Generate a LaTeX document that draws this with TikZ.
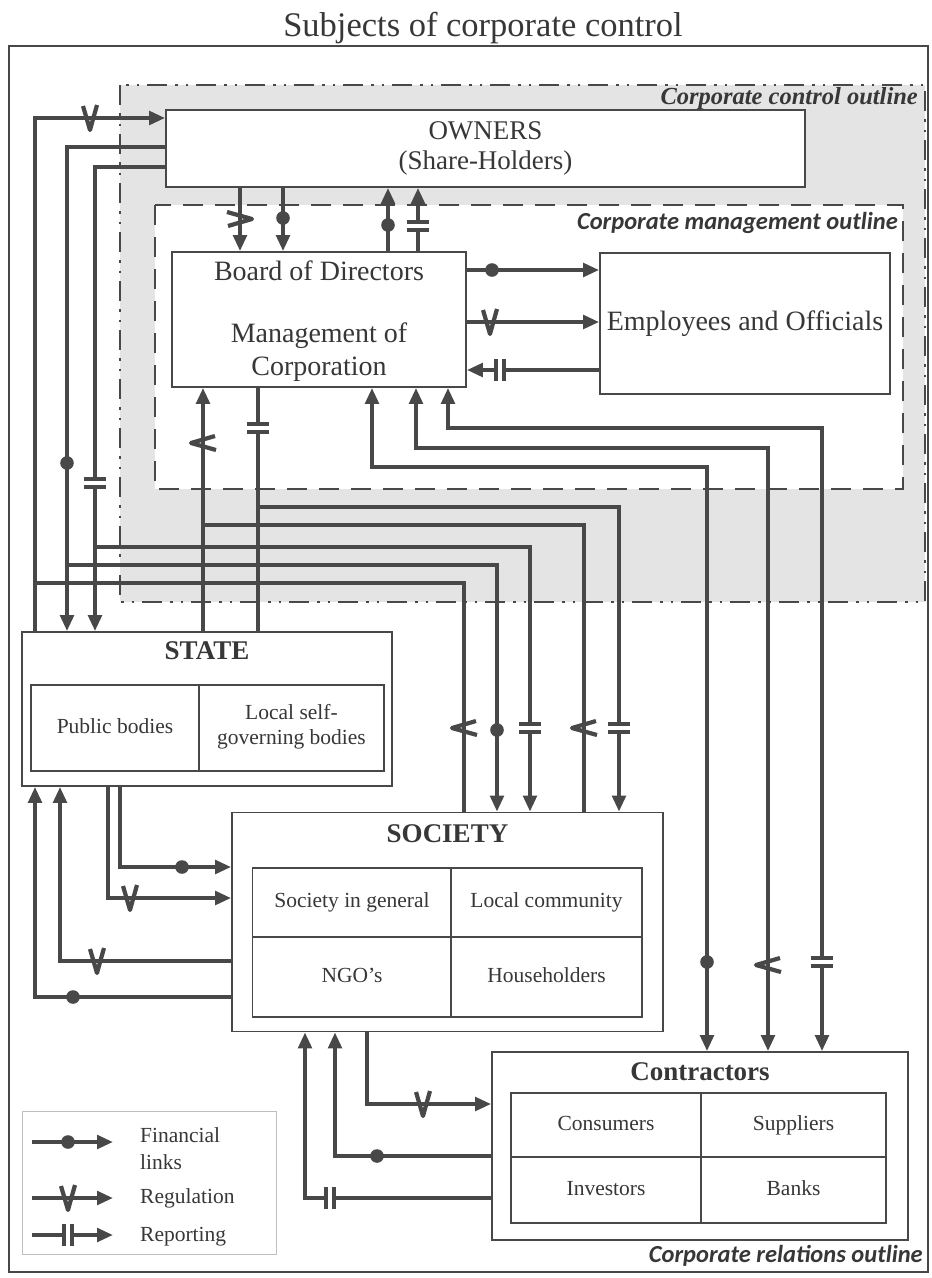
\documentclass[tikz,border=0pt]{standalone}
\usepackage{fontspec}
\setmainfont{Liberation Serif}
\newfontfamily\calibri{Carlito}
\usetikzlibrary{arrows.meta}

\definecolor{lineGray}{RGB}{72,72,72}
\definecolor{textGray}{RGB}{55,55,55}
\definecolor{zoneGray}{RGB}{228,228,228}

\begin{document}
\begin{tikzpicture}[x=1pt, y=-1pt, line join=miter]
	\tikzstyle{boxStyle}=[draw=lineGray, line width=1.8pt, fill=white, inner sep=0pt, text=textGray]
	\tikzstyle{cellStyle}=[draw=lineGray, line width=1.4pt, inner sep=0pt, text=textGray, align=center, font=\fontsize{21.5}{25}\selectfont, execute at begin node=\strut]
	\tikzstyle{textStyle}=[text=textGray, inner sep=0pt, align=center, font=\fontsize{28}{33}\selectfont]
	\tikzstyle{headStyle}=[text=textGray, inner sep=0pt, font=\fontsize{27}{30}\selectfont\bfseries]
	\tikzstyle{legendStyle}=[text=textGray, inner sep=0pt, anchor=west, align=left, font=\fontsize{21.5}{27}\selectfont]
	\tikzstyle{outlineStyle}=[text=textGray, inner sep=0pt, anchor=east]
	\tikzstyle{linkStyle}=[draw=lineGray, line width=3.8pt]
	\tikzstyle{toStyle}=[linkStyle, -{Triangle[length=16pt,width=13.5pt]}]
	\tikzstyle{bothStyle}=[linkStyle, {Triangle[length=16pt,width=13.5pt]}-{Triangle[length=16pt,width=13.5pt]}]
	\tikzset{
		finMark/.pic={\fill[lineGray] (0,0) circle (6.8);},
		regMark/.pic={\draw[lineGray, line width=4.2pt, line join=round] (-7,-12) -- (0,12) -- (7,-13);},
		repMark/.pic={\fill[white] (-3,-6) rectangle (3,6); \draw[lineGray, line width=3.6pt] (-4,-11) -- (-4,11) (4,-11) -- (4,11);}
	}
	\useasboundingbox (0,0) rectangle (932,1278);
	\node[text=textGray, inner sep=0pt, font=\fontsize{34.5}{40}\selectfont] (title) at (483,28) {Subjects of corporate control};
	\draw[lineGray, line width=2.5pt] (9,46) rectangle (928,1272);
	\draw[fill=zoneGray, draw=lineGray, line width=2.6pt, dash pattern=on 20pt off 8pt on 2.5pt off 8pt on 2.5pt off 8pt] (120,85) rectangle (925,602);
	\draw[fill=white, draw=lineGray, line width=2.6pt, dash pattern=on 20pt off 12pt] (155,205) rectangle (903,489);
	\node[outlineStyle, font=\fontsize{24.5}{28}\selectfont\bfseries\itshape] (ctrlLabel) at (918,99) {Corporate control outline};
	\node[outlineStyle, font=\calibri\fontsize{24.5}{28}\selectfont\bfseries\itshape] (mgmtLabel) at (898,223) {Corporate management outline};
	\node[outlineStyle, font=\calibri\fontsize{24.5}{28}\selectfont\bfseries\itshape] (relLabel) at (923,1256) {Corporate relations outline};

	\node[boxStyle, minimum width=639pt, minimum height=77pt, align=center, font=\fontsize{27}{30}\selectfont] (owners) at (485.5,148.5) {OWNERS\\(Share-Holders)};
	\node[boxStyle, minimum width=294pt, minimum height=135pt] (board) at (319,319.5) {};
	\node[textStyle] (boardText) at (319,271) {Board of Directors};
	\node[textStyle] (mgmtText) at (319,352) {Management of\\Corporation};
	\node[boxStyle, minimum width=290pt, minimum height=141pt, font=\fontsize{28}{33}\selectfont] (empl) at (745,323.5) {Employees and Officials};

	\node[boxStyle, minimum width=370pt, minimum height=154pt] (state) at (207,709) {};
	\node[headStyle] (stateHead) at (207,651) {STATE};
	\node[cellStyle, minimum width=168pt, minimum height=86pt] (publicCell) at (115,728) {Public bodies};
	\node[cellStyle, minimum width=185pt, minimum height=86pt] (localCell) at (291.5,728) {Local self-\\governing bodies};

	\node[boxStyle, minimum width=431pt, minimum height=219pt] (society) at (447.5,922) {};
	\node[headStyle] (societyHead) at (447.5,834) {SOCIETY};
	\node[cellStyle, minimum width=199pt, minimum height=69pt] (generalCell) at (352,902.5) {Society in general};
	\node[cellStyle, minimum width=191pt, minimum height=69pt] (communityCell) at (546.5,902.5) {Local community};
	\node[cellStyle, minimum width=199pt, minimum height=80pt] (ngoCell) at (352,977) {NGO’s};
	\node[cellStyle, minimum width=191pt, minimum height=80pt] (houseCell) at (546.5,977) {Householders};

	\node[boxStyle, minimum width=416pt, minimum height=188pt] (contr) at (700,1146) {};
	\node[headStyle] (contrHead) at (700,1072) {Contractors};
	\node[cellStyle, minimum width=190pt, minimum height=64pt] (consCell) at (606,1125) {Consumers};
	\node[cellStyle, minimum width=185pt, minimum height=64pt] (suppCell) at (793.5,1125) {Suppliers};
	\node[cellStyle, minimum width=190pt, minimum height=66pt] (invCell) at (606,1190) {Investors};
	\node[cellStyle, minimum width=185pt, minimum height=66pt] (bankCell) at (793.5,1190) {Banks};

	\coordinate (busOwnReg) at (35,583);
	\coordinate (busOwnFin) at (67,565);
	\coordinate (busOwnRep) at (95,547);
	\coordinate (busBrdReg) at (203,525);
	\coordinate (busBrdRep) at (258,507);

	\draw[toStyle] (owners.south -| 240,0) -- (board.north -| 240,0);
	\draw[toStyle] (owners.south -| 283,0) -- (board.north -| 283,0);
	\draw[toStyle] (board.north -| 388,0) -- (owners.south -| 388,0);
	\draw[toStyle] (board.north -| 418,0) -- (owners.south -| 418,0);
	\draw[toStyle] (board.east |- 0,270) -- (empl.west |- 0,270);
	\draw[toStyle] (board.east |- 0,322) -- (empl.west |- 0,322);
	\draw[toStyle] (empl.west |- 0,370) -- (board.east |- 0,370);

	\draw[toStyle] (state.north -| busOwnReg) -- (35,118) -- (owners.west |- 0,118);
	\draw[linkStyle] (society.north -| 464,0) -- (464,583) -- (busOwnReg);
	\draw[toStyle] (owners.west |- 0,147) -- (67,147) -- (state.north -| busOwnFin);
	\draw[toStyle] (busOwnFin) -- (497,565) -- (society.north -| 497,0);
	\draw[toStyle] (owners.west |- 0,167) -- (95,167) -- (state.north -| busOwnRep);
	\draw[toStyle] (busOwnRep) -- (530,547) -- (society.north -| 530,0);
	\draw[toStyle] (state.north -| busBrdReg) -- (board.south -| busBrdReg);
	\draw[linkStyle] (society.north -| 584,0) -- (584,525) -- (busBrdReg);
	\draw[linkStyle] (board.south -| busBrdRep) -- (state.north -| busBrdRep);
	\draw[toStyle] (busBrdRep) -- (619,507) -- (society.north -| 619,0);
	\draw[bothStyle] (board.south -| 372,0) -- (372,467) -- (707,467) -- (contr.north -| 707,0);
	\draw[bothStyle] (board.south -| 416,0) -- (416,448) -- (768,448) -- (contr.north -| 768,0);
	\draw[bothStyle] (board.south -| 448,0) -- (448,428) -- (822,428) -- (contr.north -| 822,0);

	\draw[toStyle] (state.south -| 120,0) -- (120,867) -- (society.west |- 0,867);
	\draw[toStyle] (state.south -| 108,0) -- (108,898) -- (society.west |- 0,898);
	\draw[toStyle] (society.west |- 0,961) -- (60,961) -- (state.south -| 60,0);
	\draw[toStyle] (society.west |- 0,997) -- (35,997) -- (state.south -| 35,0);

	\draw[toStyle] (society.south -| 367,0) -- (367,1104) -- (contr.west |- 0,1104);
	\draw[toStyle] (contr.west |- 0,1156) -- (335,1156) -- (society.south -| 335,0);
	\draw[toStyle] (contr.west |- 0,1198) -- (305,1198) -- (society.south -| 305,0);

	\pic[rotate=90] at (240,219) {regMark};
	\pic at (283,218) {finMark};
	\pic at (388,225) {finMark};
	\pic[rotate=90] at (418,226) {repMark};
	\pic at (492,270) {finMark};
	\pic at (490,322) {regMark};
	\pic at (500,370) {repMark};
	\pic at (90,118) {regMark};
	\pic[rotate=-90] at (464,728) {regMark};
	\pic at (67,463) {finMark};
	\pic at (497,730) {finMark};
	\pic[rotate=90] at (95,483) {repMark};
	\pic[rotate=90] at (530,728) {repMark};
	\pic[rotate=-90] at (203,443) {regMark};
	\pic[rotate=-90] at (584,728) {regMark};
	\pic[rotate=90] at (258,428) {repMark};
	\pic[rotate=90] at (619,728) {repMark};
	\pic at (707,962) {finMark};
	\pic[rotate=-90] at (768,965) {regMark};
	\pic[rotate=90] at (822,962) {repMark};
	\pic at (182,867) {finMark};
	\pic at (130,898) {regMark};
	\pic at (97,961) {regMark};
	\pic at (73,997) {finMark};
	\pic at (423,1104) {regMark};
	\pic at (377,1156) {finMark};
	\pic at (330,1198) {repMark};

	\node[draw=lineGray!35, line width=1pt, minimum width=254pt, minimum height=143pt, inner sep=0pt] (legend) at (149,1182.5) {};
	\coordinate (finStart) at (32,1142);
	\coordinate (finEnd) at (113,1142);
	\coordinate (regStart) at (32,1198);
	\coordinate (regEnd) at (113,1198);
	\coordinate (repStart) at (32,1235);
	\coordinate (repEnd) at (113,1235);
	\draw[toStyle] (finStart) -- (finEnd);
	\draw[toStyle] (regStart) -- (regEnd);
	\draw[toStyle] (repStart) -- (repEnd);
	\pic at (68,1142) {finMark};
	\pic at (68,1198) {regMark};
	\pic at (68,1235) {repMark};
	\node[legendStyle] (finText) at (140,1149) {Financial\\links};
	\node[legendStyle] (regText) at (140,1198) {Regulation};
	\node[legendStyle] (repText) at (140,1237) {Reporting};
\end{tikzpicture}
\end{document}
